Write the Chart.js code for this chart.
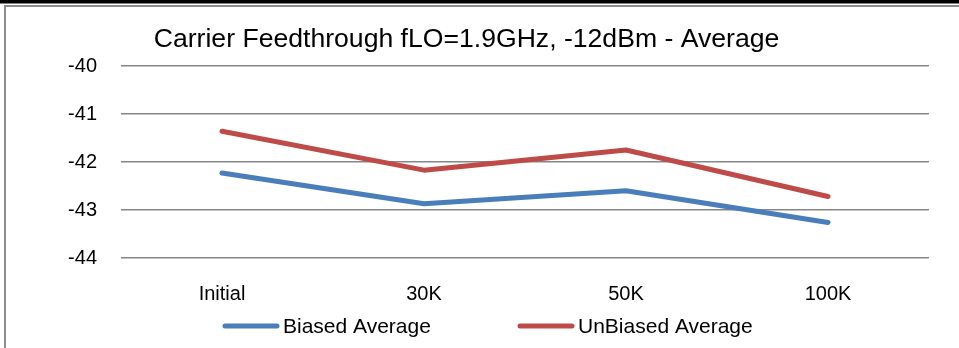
<!DOCTYPE html>
<html>
<head>
<meta charset="utf-8">
<script src="https://cdn.jsdelivr.net/npm/chart.js@4/dist/chart.umd.min.js"></script>
<style>
    html, body { margin: 0; padding: 0; background: #fff; }
    #wrap { width: 959px; height: 348px; position: relative; }
</style>
</head>
<body>
<div id="wrap"><canvas id="chart" width="959" height="348"></canvas></div>
<script>
// Chart data
const chartTitle = 'Carrier Feedthrough fLO=1.9GHz, -12dBm - Average';
const categories = ['Initial', '30K', '50K', '100K'];
const biasedAverage = [-42.23, -42.87, -42.6, -43.26];
const unbiasedAverage = [-41.36, -42.17, -41.75, -42.72];
const seriesNames = ['Biased Average', 'UnBiased Average'];
const yTicks = [-44, -43, -42, -41, -40];

const FONT = '"Liberation Sans", Arial, sans-serif';
const BLUE = '#4A7EBB';
const RED = '#BE4B48';

// Frame, title and legend drawn by hand to match the Excel look
const decorPlugin = {
    id: 'decor',
    beforeDraw(chart) {
        const ctx = chart.ctx;
        ctx.save();
        ctx.fillStyle = '#fff';
        ctx.fillRect(0, 0, chart.width, chart.height);
        ctx.fillStyle = '#000';
        ctx.fillRect(0, 0, chart.width, 3.5);
        ctx.strokeStyle = '#8c8c8c';
        ctx.lineWidth = 2;
        ctx.beginPath();
        ctx.moveTo(5, chart.height);
        ctx.lineTo(5, 6);
        ctx.lineTo(chart.width, 6);
        ctx.stroke();
        ctx.restore();
    },
    afterDraw(chart) {
        const ctx = chart.ctx;
        ctx.save();
        ctx.fillStyle = '#000';
        ctx.font = '26.6px ' + FONT;
        ctx.textAlign = 'center';
        ctx.textBaseline = 'alphabetic';
        ctx.fillText(chartTitle, 466.5, 47);

        // legend
        const items = [
            { x: 223, color: BLUE, label: seriesNames[0] },
            { x: 518, color: RED, label: seriesNames[1] }
        ];
        ctx.font = '21px ' + FONT;
        ctx.textAlign = 'left';
        items.forEach(function(it) {
            ctx.strokeStyle = it.color;
            ctx.lineWidth = 5;
            ctx.lineCap = 'round';
            ctx.beginPath();
            ctx.moveTo(it.x + 2, 326);
            ctx.lineTo(it.x + 54, 326);
            ctx.stroke();
            ctx.fillText(it.label, it.x + 60, 333);
        });
        ctx.restore();
    }
};

const ctx = document.getElementById('chart').getContext('2d');

new Chart(ctx, {
    type: 'line',
    data: {
        labels: categories,
        datasets: [{
            label: seriesNames[0],
            data: biasedAverage,
            borderColor: BLUE,
            borderWidth: 5,
            borderCapStyle: 'round',
            borderJoinStyle: 'round',
            pointRadius: 0,
            tension: 0
        }, {
            label: seriesNames[1],
            data: unbiasedAverage,
            borderColor: RED,
            borderWidth: 5,
            borderCapStyle: 'round',
            borderJoinStyle: 'round',
            pointRadius: 0,
            tension: 0
        }]
    },
    options: {
        responsive: false,
        animation: false,
        layout: {
            padding: { left: 0, right: 30, top: 66, bottom: 0 }
        },
        plugins: {
            legend: { display: false },
            title: { display: false },
            tooltip: { enabled: false }
        },
        scales: {
            x: {
                offset: true,
                grid: { display: false, drawTicks: false },
                border: { display: false },
                ticks: {
                    color: '#000',
                    font: { family: FONT, size: 20 },
                    padding: 24,
                    maxRotation: 0
                },
                afterFit: function(scale) { scale.height = 90; }
            },
            y: {
                min: yTicks[0],
                max: yTicks[yTicks.length - 1],
                afterBuildTicks: function(scale) {
                    scale.ticks = yTicks.map(function(v) { return { value: v }; });
                },
                grid: { color: '#868686', lineWidth: 1.5, drawTicks: false },
                border: { display: false },
                ticks: {
                    color: '#000',
                    font: { family: FONT, size: 20 },
                    padding: 24
                },
                afterFit: function(scale) { scale.width = 121; }
            }
        }
    },
    plugins: [decorPlugin]
});
</script>
</body>
</html>
